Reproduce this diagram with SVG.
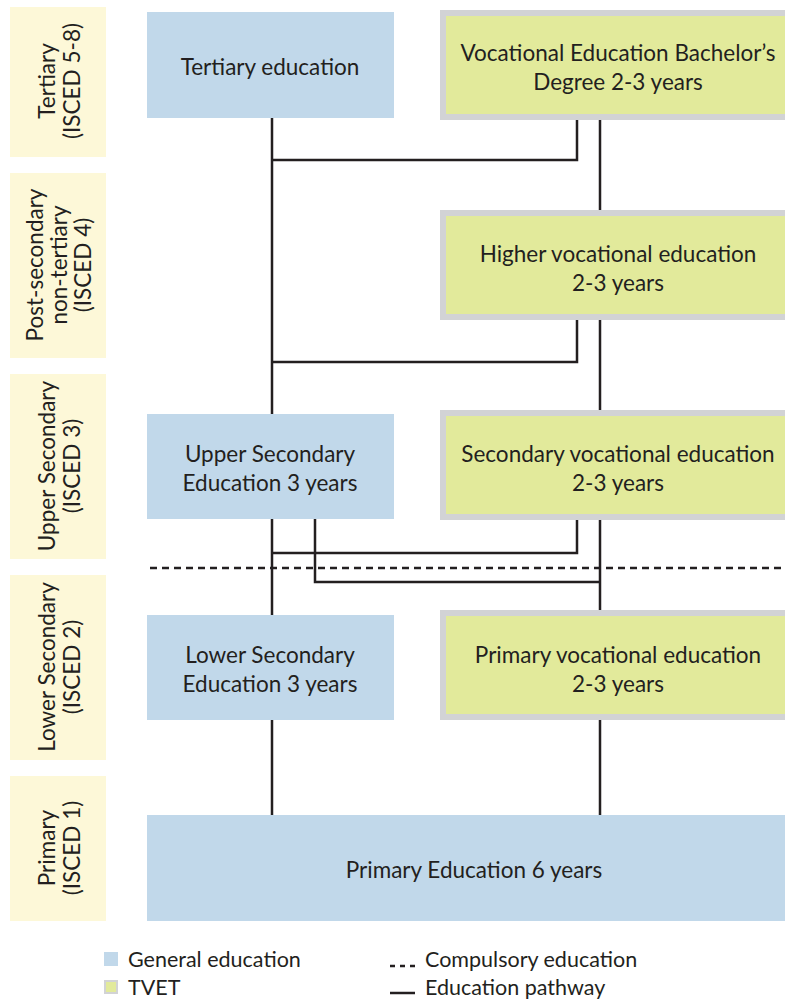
<svg xmlns="http://www.w3.org/2000/svg" width="785" height="999" viewBox="0 0 785 999">
<style>
.lvl{fill:#fdf8d8}
.gen{fill:#c1d8ea}
.tvo{fill:#d2d3d5}
.tvi{fill:#e2ea9b}
text{font-family:Lato,"Open Sans","Liberation Sans",sans-serif;font-size:22.5px;fill:#231f20;text-anchor:middle}
.lt{font-size:22.5px}
.lg{text-anchor:start;font-size:21.5px}
.ln{fill:none;stroke:#231f20;stroke-width:2.5}
</style>
<rect width="785" height="999" fill="#ffffff"/>
<g id="levels">
<g id="lvl-tertiary"><rect class="lvl" x="10" y="7" width="96" height="150"/>
<g transform="rotate(-90)"><text class="lt" x="-81" y="55">Tertiary</text><text class="lt" x="-81" y="80">(ISCED 5-8)</text></g></g>
<g id="lvl-postsec"><rect class="lvl" x="10" y="173" width="96" height="185"/>
<g transform="rotate(-90)"><text class="lt" x="-265" y="43">Post-secondary</text><text class="lt" x="-265" y="67">non-tertiary</text><text class="lt" x="-265" y="91">(ISCED 4)</text></g></g>
<g id="lvl-upper"><rect class="lvl" x="10" y="374" width="96" height="185"/>
<g transform="rotate(-90)"><text class="lt" x="-466" y="55">Upper Secondary</text><text class="lt" x="-466" y="80">(ISCED 3)</text></g></g>
<g id="lvl-lower"><rect class="lvl" x="10" y="575" width="96" height="185"/>
<g transform="rotate(-90)"><text class="lt" x="-667" y="55">Lower Secondary</text><text class="lt" x="-667" y="80">(ISCED 2)</text></g></g>
<g id="lvl-primary"><rect class="lvl" x="10" y="776" width="96" height="145"/>
<g transform="rotate(-90)"><text class="lt" x="-848" y="55">Primary</text><text class="lt" x="-848" y="80">(ISCED 1)</text></g></g>
</g>
<g id="connectors">
<path class="ln" d="M272 118V816"/>
<path class="ln" d="M600 120V816"/>
<path class="ln" d="M577 120V160H272"/>
<path class="ln" d="M577 320V362H272"/>
<path class="ln" d="M577 520V553H272"/>
<path class="ln" d="M315 519V582H600"/>
<path class="ln" d="M150 568H785" stroke-dasharray="7,5"/>
</g>
<g id="tertiary-edu"><rect class="gen" x="147" y="12" width="247" height="106"/><text x="270" y="75">Tertiary education</text></g>
<g id="voc-bachelor"><rect class="tvo" x="440" y="10" width="345" height="110"/><rect class="tvi" x="446" y="16" width="339" height="98"/>
<text x="618" y="61">Vocational Education Bachelor’s</text><text x="618" y="90">Degree 2-3 years</text></g>
<g id="higher-voc"><rect class="tvo" x="440" y="210" width="345" height="110"/><rect class="tvi" x="446" y="216" width="339" height="98"/>
<text x="618" y="262">Higher vocational education</text><text x="618" y="291">2-3 years</text></g>
<g id="upper-sec"><rect class="gen" x="147" y="414" width="247" height="105"/><text x="270" y="462">Upper Secondary</text><text x="270" y="491">Education 3 years</text></g>
<g id="sec-voc"><rect class="tvo" x="440" y="410" width="345" height="110"/><rect class="tvi" x="446" y="416" width="339" height="98"/>
<text x="618" y="462">Secondary vocational education</text><text x="618" y="491">2-3 years</text></g>
<g id="lower-sec"><rect class="gen" x="147" y="615" width="247" height="105"/><text x="270" y="663">Lower Secondary</text><text x="270" y="692">Education 3 years</text></g>
<g id="prim-voc"><rect class="tvo" x="440" y="610" width="345" height="110"/><rect class="tvi" x="446" y="616" width="339" height="98"/>
<text x="618" y="663">Primary vocational education</text><text x="618" y="692">2-3 years</text></g>
<g id="primary-edu"><rect class="gen" x="147" y="815" width="638" height="106"/><text x="474" y="878">Primary Education 6 years</text></g>
<g id="legend">
<rect class="gen" x="104" y="952" width="14" height="14"/>
<rect class="tvo" x="104" y="980" width="14" height="14"/><rect class="tvi" x="106" y="982" width="10" height="10"/>
<text class="lg" x="128" y="967">General education</text>
<text class="lg" x="128" y="995">TVET</text>
<path d="M390 966H415" fill="none" stroke="#231f20" stroke-width="2.5" stroke-dasharray="5,5"/>
<path d="M390 993H415" fill="none" stroke="#231f20" stroke-width="2.5"/>
<text class="lg" x="425" y="967">Compulsory education</text>
<text class="lg" x="425" y="995">Education pathway</text>
</g>
</svg>
